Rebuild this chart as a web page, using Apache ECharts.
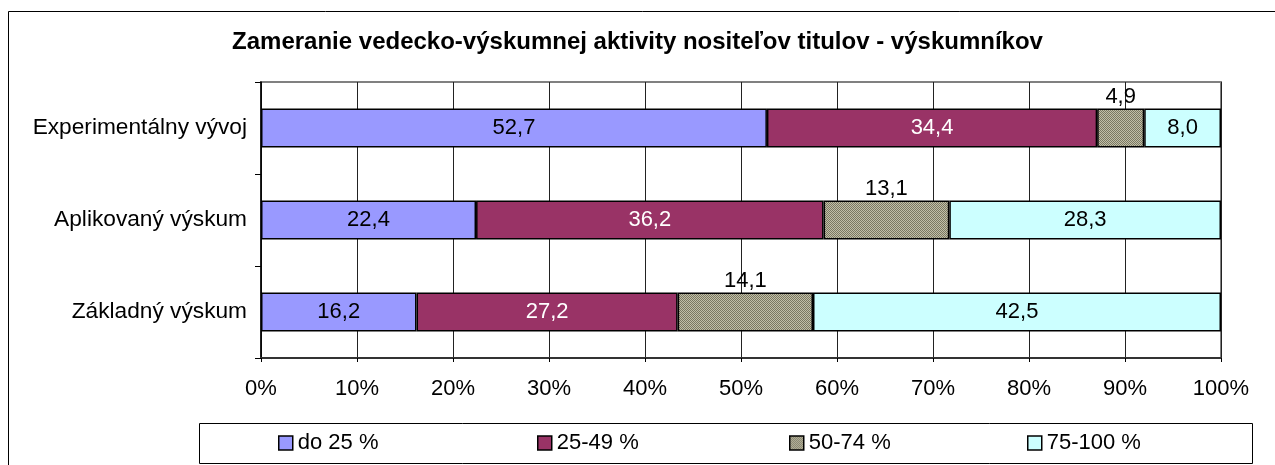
<!DOCTYPE html>
<html>
<head>
<meta charset="utf-8">
<script src="https://cdn.jsdelivr.net/npm/echarts@6/dist/echarts.min.js"></script>
<style>
  html, body { margin: 0; padding: 0; background: #fff; }
  #chart { width: 1275px; height: 465px; }
</style>
</head>
<body>
<div id="chart"></div>
<script>
const categories = ["Základný výskum", "Aplikovaný výskum", "Experimentálny vývoj"];
const seriesNames = ["do 25 %", "25-49 %", "50-74 %", "75-100 %"];
const do25 = [16.2, 22.4, 52.7];
const p25to49 = [27.2, 36.2, 34.4];
const p50to74 = [14.1, 13.1, 4.9];
const p75to100 = [42.5, 28.3, 8.0];
const xTicks = [0, 10, 20, 30, 40, 50, 60, 70, 80, 90, 100];

// fine dotted texture like the excel fill
function hatch() {
  const c = document.createElement("canvas");
  c.width = 2;
  c.height = 2;
  const ctx = c.getContext("2d");
  ctx.fillStyle = "#c2bfa8";
  ctx.fillRect(0, 0, 2, 2);
  ctx.fillStyle = "#7a7862";
  ctx.fillRect(0, 0, 1, 1);
  ctx.fillRect(1, 1, 1, 1);
  return c;
}

const font = "Liberation Sans, Arial, sans-serif";
const fmt = p => p.value.toFixed(1).replace(".", ",");

const chart = echarts.init(document.getElementById("chart"));

function bar(name, data, color, labelColor, pos) {
  return {
    name: name,
    type: "bar",
    stack: "all",
    barWidth: 39,
    data: data,
    itemStyle: { color: color, borderColor: "#000", borderWidth: 1.5 },
    label: {
      show: true,
      position: pos,
      distance: 1,
      formatter: fmt,
      color: labelColor,
      fontFamily: font,
      fontSize: 22
    }
  };
}

const legendLeft = [273, 532, 784, 1022];

const option = {
  animation: false,
  title: {
    text: "Zameranie vedecko-výskumnej aktivity nositeľov titulov - výskumníkov",
    left: "center",
    top: 25,
    textStyle: { fontFamily: font, fontSize: 24, fontWeight: "bold", color: "#000" }
  },
  graphic: [
    {
      type: "rect",
      shape: { x: 8.5, y: 11.5, width: 1400, height: 600 },
      style: { fill: "none", stroke: "#000", lineWidth: 1 },
      silent: true
    },
    {
      type: "rect",
      shape: { x: 199.5, y: 423.5, width: 1053, height: 40 },
      style: { fill: "none", stroke: "#000", lineWidth: 1 },
      silent: true
    }
  ],
  legend: seriesNames.map((n, i) => ({
    data: [n],
    left: legendLeft[i],
    top: 427,
    itemWidth: 14,
    itemHeight: 14,
    itemGap: 0,
    icon: "rect",
    itemStyle: { borderColor: "#000", borderWidth: 1.5 },
    textStyle: { fontFamily: font, fontSize: 22, color: "#000" }
  })),
  grid: {
    left: 261,
    right: 54,
    top: 82,
    bottom: 107,
    show: true,
    borderColor: "#808080",
    borderWidth: 2
  },
  xAxis: {
    type: "value",
    min: 0,
    max: 100,
    interval: 10,
    axisLine: { show: true, lineStyle: { color: "#333", width: 2 } },
    axisTick: { show: true, length: 4, lineStyle: { color: "#000" } },
    splitLine: { show: true, lineStyle: { color: "#222", width: 1 } },
    axisLabel: {
      margin: 20,
      fontFamily: font,
      fontSize: 22,
      color: "#000",
      formatter: v => (xTicks.indexOf(v) >= 0 ? v + "%" : "")
    }
  },
  yAxis: {
    type: "category",
    data: categories,
    axisLine: { show: true, lineStyle: { color: "#000", width: 1.5 } },
    axisTick: { show: true, length: 6, lineStyle: { color: "#000" } },
    axisLabel: { margin: 14, fontFamily: font, fontSize: 22.7, color: "#000" }
  },
  series: [
    bar(seriesNames[0], do25, "#9999ff", "#000", "inside"),
    bar(seriesNames[1], p25to49, "#993366", "#fff", "inside"),
    bar(seriesNames[2], p50to74, { image: hatch(), repeat: "repeat" }, "#000", "top"),
    bar(seriesNames[3], p75to100, "#ccffff", "#000", "inside")
  ]
};

chart.setOption(option);
</script>
</body>
</html>
